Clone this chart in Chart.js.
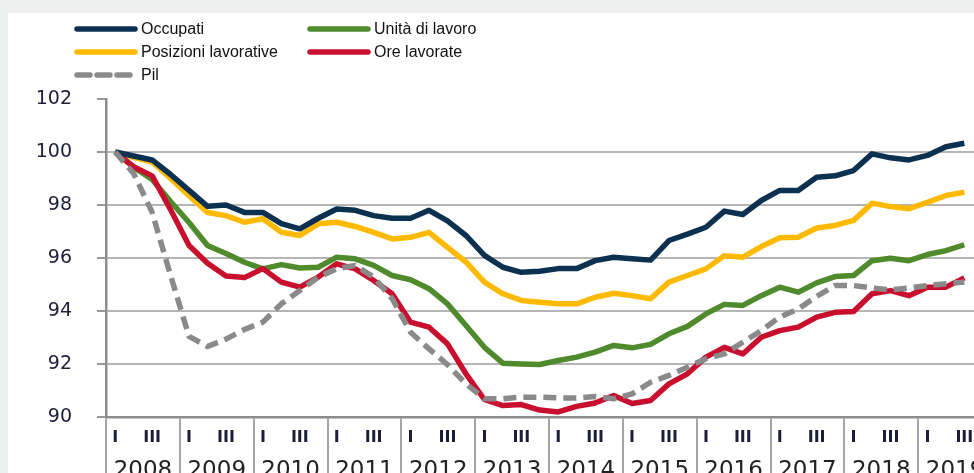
<!DOCTYPE html>
<html>
<head>
<meta charset="utf-8">
<script src="https://cdn.jsdelivr.net/npm/chart.js@4"></script>
<style>
  html, body { margin: 0; padding: 0; }
  body { width: 974px; height: 473px; overflow: hidden; background: #eef0ef; position: relative; }
  #panel { position: absolute; left: 8px; top: 13px; width: 1000px; height: 480px; background: #fff; }
  #wrap { position: absolute; left: 8px; top: 13px; width: 984px; height: 474px; }
  #legend { position: absolute; left: 74px; top: 17px; display: grid; grid-template-columns: 233px 240px; grid-auto-rows: 23px;
            font-family: "Liberation Sans", Arial, sans-serif; font-size: 16px; color: #111; }
  #legend div { display: flex; align-items: center; white-space: nowrap; }
  #legend svg { margin-right: 3px; }
</style>
</head>
<body>
<div id="panel"></div>
<div id="wrap"><canvas id="chart"></canvas></div>
<div id="legend"></div>
<script>
// quarters 2008 Q1 .. 2019 Q4 (data runs to 2019 Q3)
const years = ['2008', '2009', '2010', '2011', '2012', '2013', '2014', '2015', '2016', '2017', '2018', '2019'];
const quarterNames = ['I', '', 'III', ''];
const quarterLabels = years.flatMap(y => quarterNames);

const seriesNames = ['Occupati', 'Unità di lavoro', 'Posizioni lavorative', 'Ore lavorate', 'Pil'];
const seriesColors = ['#0c3150', '#4f8a2c', '#ffba00', '#c8102e', '#8a8a8a'];

// index numbers, 2008 Q1 = 100
const occupati = [100.0, 99.85, 99.7, 99.15, 98.55, 97.95, 98.0, 97.72, 97.72, 97.3, 97.1, 97.5, 97.85, 97.8, 97.6, 97.5,
  97.5, 97.8, 97.4, 96.85, 96.1, 95.65, 95.46, 95.5, 95.6, 95.6, 95.9, 96.03, 95.97, 95.92, 96.66, 96.9,
  97.16, 97.77, 97.64, 98.17, 98.55, 98.55, 99.05, 99.1, 99.3, 99.93, 99.78, 99.7, 99.87, 100.2, 100.33];
const unita = [100.0, 99.43, 98.96, 98.13, 97.34, 96.47, 96.17, 95.84, 95.59, 95.75, 95.62, 95.65, 96.03, 95.97, 95.72, 95.34,
  95.18, 94.84, 94.27, 93.45, 92.63, 92.03, 92.0, 91.98, 92.13, 92.26, 92.45, 92.7, 92.61, 92.74, 93.14, 93.42,
  93.89, 94.25, 94.21, 94.58, 94.9, 94.71, 95.06, 95.3, 95.34, 95.9, 95.99, 95.9, 96.13, 96.28, 96.5];
const posizioni = [100.0, 99.8, 99.62, 99.0, 98.35, 97.72, 97.6, 97.35, 97.48, 96.97, 96.85, 97.29, 97.35, 97.19, 96.97, 96.72,
  96.78, 96.97, 96.4, 95.85, 95.09, 94.65, 94.4, 94.33, 94.27, 94.27, 94.52, 94.67, 94.58, 94.46, 95.09, 95.34,
  95.59, 96.09, 96.03, 96.43, 96.76, 96.78, 97.13, 97.23, 97.42, 98.07, 97.94, 97.86, 98.1, 98.36, 98.48];
const ore = [100.0, 99.44, 99.1, 97.82, 96.47, 95.8, 95.32, 95.26, 95.6, 95.09, 94.9, 95.28, 95.78, 95.59, 95.15, 94.65,
  93.58, 93.39, 92.76, 91.63, 90.66, 90.43, 90.47, 90.26, 90.19, 90.4, 90.53, 90.81, 90.51, 90.62, 91.25, 91.63,
  92.26, 92.63, 92.38, 93.01, 93.26, 93.39, 93.77, 93.95, 93.98, 94.65, 94.77, 94.58, 94.9, 94.9, 95.25];
const pil = [100.0, 99.19, 97.72, 95.34, 93.04, 92.66, 92.94, 93.3, 93.58, 94.27, 94.77, 95.28, 95.59, 95.72, 95.28, 94.47,
  93.2, 92.57, 91.98, 91.25, 90.69, 90.69, 90.75, 90.75, 90.72, 90.72, 90.77, 90.69, 90.87, 91.31, 91.57, 91.88,
  92.2, 92.38, 92.82, 93.26, 93.77, 94.08, 94.55, 94.96, 94.96, 94.87, 94.8, 94.87, 94.96, 95.03, 95.09];

const yMin = 90, yMax = 102, yStep = 2;

const seriesData = [occupati, unita, posizioni, ore, pil];
const drawOrder = [1, 3, 4, 2, 0]; // pil on top, then navy, red...

// legend (html, two columns)
const legendEl = document.getElementById('legend');
seriesNames.forEach((name, i) => {
  const item = document.createElement('div');
  const dash = i === 4 ? 'stroke-dasharray="13 7"' : '';
  item.innerHTML = `<svg width="64" height="8"><line x1="3" y1="4" x2="61" y2="4" stroke="${seriesColors[i]}" stroke-width="5.5" stroke-linecap="round" ${dash}/></svg>${name}`;
  legendEl.appendChild(item);
});

const datasets = seriesNames.map((name, i) => ({
  label: name,
  data: seriesData[i],
  borderColor: seriesColors[i],
  backgroundColor: seriesColors[i],
  borderWidth: 5.5,
  borderDash: i === 4 ? [13, 7] : [],
  pointRadius: 0,
  tension: 0,
  fill: false,
  borderJoinStyle: 'round',
  order: drawOrder[i]
}));

new Chart(document.getElementById('chart'), {
  type: 'line',
  data: { labels: quarterLabels, datasets: datasets },
  options: {
    responsive: true,
    maintainAspectRatio: false,
    animation: false,
    layout: { padding: { top: 86, left: 0, right: 0, bottom: 0 } },
    plugins: { legend: { display: false }, tooltip: { enabled: false } },
    scales: {
      x: {
        type: 'category',
        offset: true,
        weight: 0,
        grid: {
          offset: true,
          drawOnChartArea: false,
          tickLength: 30,
          lineWidth: 2,
          color: ctx => (ctx.index % 4 === 0 ? '#a5a5a5' : 'rgba(0,0,0,0)')
        },
        border: { display: true, color: '#8c8c8c', width: 2.5 },
        ticks: {
          autoSkip: false, maxRotation: 0, minRotation: 0, padding: -19,
          font: { family: 'DejaVu Sans', size: 16, weight: 'bold' }, color: '#1d1d3a'
        },
        afterFit: s => { s.height = 30; }
      },
      x2: {
        type: 'category',
        labels: years,
        position: 'bottom',
        offset: true,
        weight: 1,
        grid: { offset: true, drawOnChartArea: false, tickLength: 30, lineWidth: 2, color: '#a5a5a5' },
        border: { display: false },
        ticks: { autoSkip: false, maxRotation: 0, padding: -20, font: { family: 'DejaVu Sans', size: 23 }, color: '#222' },
        afterFit: s => { s.height = 40; }
      },
      y: {
        min: yMin, max: yMax,
        ticks: { stepSize: yStep, padding: 25, font: { family: 'DejaVu Sans', size: 19 }, color: '#1d1d3a' },
        grid: {
          tickLength: 9,
          lineWidth: 2,
          color: ctx => (ctx.tick && ctx.tick.value === yMax ? 'rgba(0,0,0,0)' : '#b5b5b5'),
          tickColor: '#999999'
        },
        border: { display: true, color: '#8c8c8c', width: 2.5 },
        afterFit: s => { s.width = 98; }
      }
    }
  }
});
</script>
</body>
</html>
